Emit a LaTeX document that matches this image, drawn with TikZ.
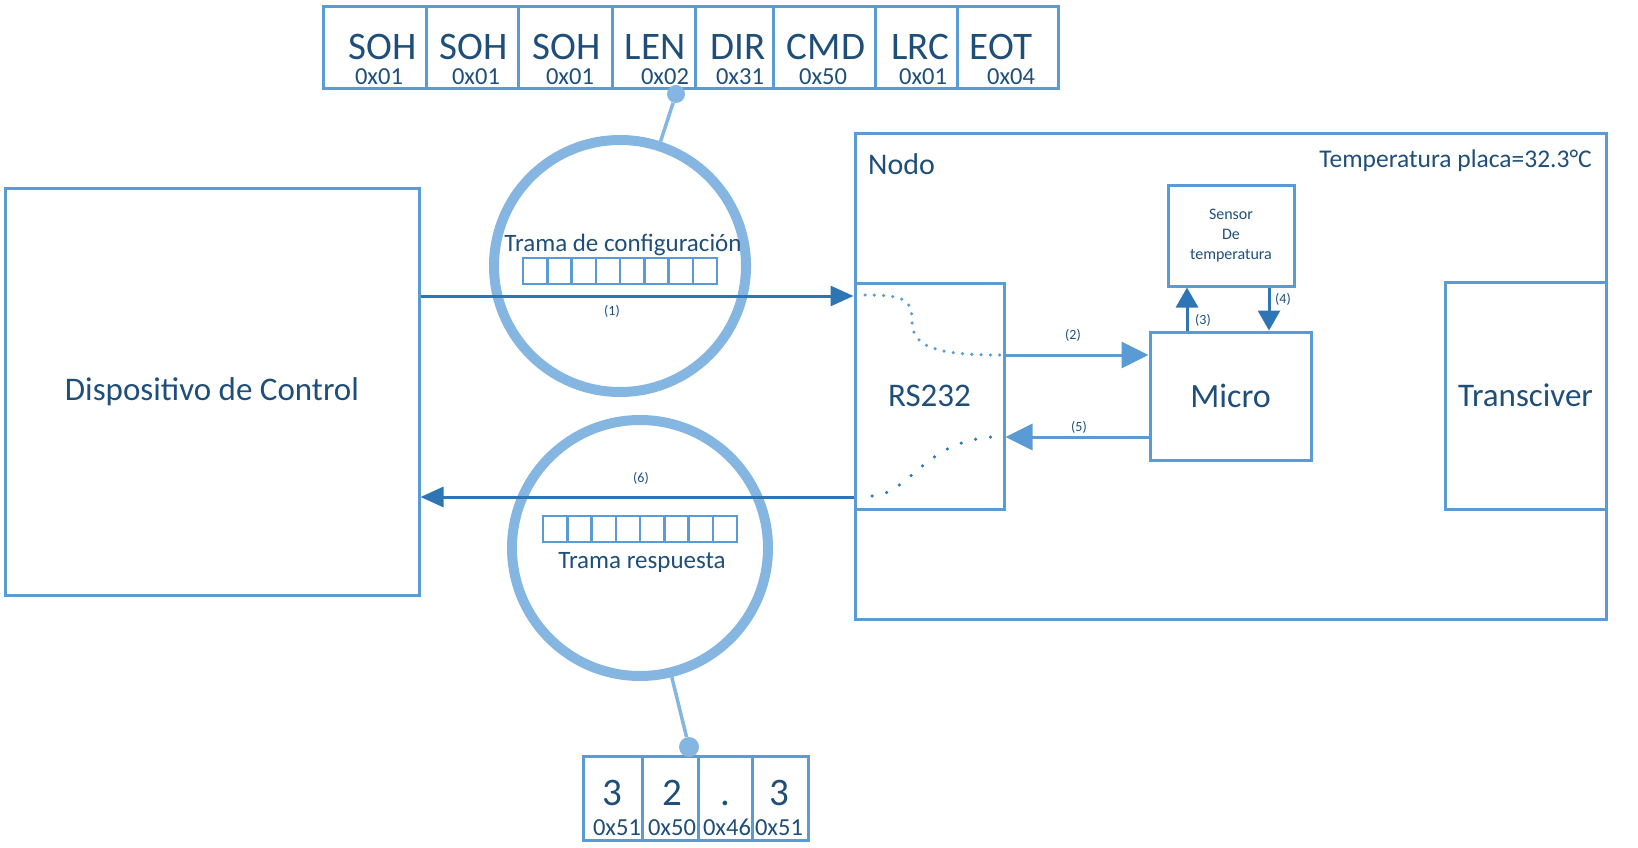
\documentclass[tikz,border=0pt]{standalone}
\usepackage{fontspec}
\setmainfont{Carlito}
\usetikzlibrary{arrows.meta}
\definecolor{boxblue}{HTML}{5B9BD5}
\definecolor{arrdark}{HTML}{2E75B6}
\definecolor{txtblue}{HTML}{1F4E79}
\definecolor{circblue}{HTML}{85B5E1}
\tikzset{
 blk/.style={draw=boxblue, line width=3pt, inner sep=0pt, text=txtblue, font=\fontsize{33}{40}\selectfont},
 cell/.style={draw=boxblue, line width=3pt, inner sep=0pt},
 mcell/.style={draw=boxblue, line width=2.5pt, inner sep=0pt, minimum width=24.25pt, minimum height=26pt},
 bigt/.style={text=txtblue, font=\fontsize{39}{44}\selectfont, inner sep=0pt, anchor=base},
 hext/.style={text=txtblue, font=\fontsize{24.5}{28}\selectfont, inner sep=0pt, anchor=base},
 midt/.style={text=txtblue, font=\fontsize{25}{30}\selectfont, inner sep=0pt},
 lbl/.style={text=txtblue, font=\fontsize{14}{16}\selectfont, inner sep=0pt},
 lens/.style={circle, draw=circblue, line width=10pt, inner sep=0pt},
 pin/.style={circle, fill=circblue, inner sep=0pt, minimum size=18pt},
 pinline/.style={draw=circblue, line width=3.5pt},
 darr/.style={draw=arrdark, line width=3pt, -{Triangle[length=23pt,width=20pt]}},
 marr/.style={draw=boxblue, line width=3pt, -{Triangle[length=27pt,width=26pt]}},
 sarr/.style={draw=arrdark, line width=3pt, -{Triangle[length=20pt,width=22pt]}},
 dots/.style={line width=3.5pt, line cap=round, dash pattern=on 0pt off 9.3pt},
}
\begin{document}
\begin{tikzpicture}[x=1pt,y=-1pt]
\useasboundingbox (0,0) rectangle (1638,848);

% top frame
\foreach \l/\r [count=\i] in {323.5/426,426/518.5,518.5/612,612/695.5,695.5/773.5,773.5/875.5,875.5/957.5,957.5/1058}
  \node[cell, minimum width={\r-\l}, minimum height=82] (tc\i) at ({(\l+\r)/2},48) {};
\foreach \x/\t [count=\i] in {383/SOH,474/SOH,567/SOH,655/LEN,738/DIR,826/CMD,920/LRC,1001/EOT}
  \node[bigt] (tb\i) at (\x,60) {\t};
\foreach \x/\t [count=\i] in {379/0x01,476/0x01,570/0x01,665/0x02,740/0x31,823/0x50,923/0x01,1011/0x04}
  \node[hext] (th\i) at (\x,85) {\t};

% bottom frame
\foreach \l/\r [count=\i] in {583/642,642/698,698/752,752/808}
  \node[cell, minimum width={\r-\l}, minimum height=84] (bc\i) at ({(\l+\r)/2},798) {};
\foreach \x/\t [count=\i] in {612/3,672/2,725/.,779/3}
  \node[bigt] (bb\i) at (\x,805) {\t};
\foreach \x/\t [count=\i] in {617/0x51,672/0x50,727/0x46,779/0x51}
  \node[hext] (bh\i) at (\x,835) {\t};

% lenses
\node[lens, minimum size=252pt] (lens1) at (620,266) {};
\node[lens, minimum size=256pt] (lens2) at (640,548) {};
\node[pin] (pin1) at (676,94) {};
\node[pin, minimum size=20pt] (pin2) at (689,747) {};
\draw[pinline] (lens1) -- (pin1);
\draw[pinline] (lens2) -- (pin2);

% mini frames
\foreach \i in {0,...,7}
  \node[mcell] (mt\i) at ({523+24.25*\i+12.125},271) {};
\foreach \i in {0,...,7}
  \node[mcell] (mb\i) at ({543+24.25*\i+12.125},529) {};
\node[midt] (tconf) at (623,245) {Trama de configuración};
\node[midt] (tresp) at (642,562) {Trama respuesta};

% main blocks
\node[blk, minimum width=414, minimum height=407] (disp) at (212,391.5) {Dispositivo de Control};
\node[blk, minimum width=751, minimum height=485] (nodo) at (1230.5,376.5) {};
\node[blk, minimum width=149, minimum height=226] (rs) at (929.5,396) {RS232};
\node[blk, minimum width=161, minimum height=227] (trx) at (1525.5,395.5) {Transciver};
\node[blk, minimum width=161, minimum height=128, font=\fontsize{34}{40}\selectfont] (micro) at (1230.5,396) {Micro};
\node[blk, minimum width=126, minimum height=101, align=center, font=\fontsize{16}{20}\selectfont] (sensor) at (1231,235.5) {Sensor\\De\\temperatura};
\node[text=txtblue, font=\fontsize{30}{36}\selectfont, inner sep=0pt, anchor=west] (nodolbl) at (868,164) {Nodo};
\node[midt, anchor=east, font=\fontsize{25.5}{30}\selectfont] (temp) at (1592,161) {Temperatura placa=32.3°C};

% arrows
\coordinate (y1) at (0,296);
\coordinate (y6) at (0,497);
\coordinate (y2) at (0,355);
\coordinate (y5) at (0,437);
\coordinate (x3) at (1187,0);
\coordinate (x4) at (1269,0);
\draw[darr] (disp.east |- y1) -- (nodo.west |- y1);
\draw[darr] (nodo.west |- y6) -- (disp.east |- y6);
\draw[marr] (rs.east |- y2) -- (micro.west |- y2);
\draw[marr] (micro.west |- y5) -- (rs.east |- y5);
\draw[sarr] (micro.north -| x3) -- (sensor.south -| x3);
\draw[sarr] (sensor.south -| x4) -- (micro.north -| x4);

\node[lbl] (l1) at (612,311) {(1)};
\node[lbl] (l6) at (641,478) {(6)};
\node[lbl] (l2) at (1073,335) {(2)};
\node[lbl] (l5) at (1079,427) {(5)};
\node[lbl] (l3) at (1203,320) {(3)};
\node[lbl] (l4) at (1283,299) {(4)};

% dotted paths
\coordinate (d1s) at (865,295);
\coordinate (d1e) at (1000,355);
\coordinate (d2s) at (872,496);
\coordinate (d2e) at (994,437);
\draw[dots, draw=boxblue] (d1s) .. controls (905,295) and (912,300) .. (912,320) .. controls (912,345) and (930,355) .. (d1e);
\draw[dots, draw=arrdark, dash pattern=on 0pt off 15pt] (d2s) .. controls (910,494) and (925,440) .. (d2e);
\end{tikzpicture}
\end{document}
